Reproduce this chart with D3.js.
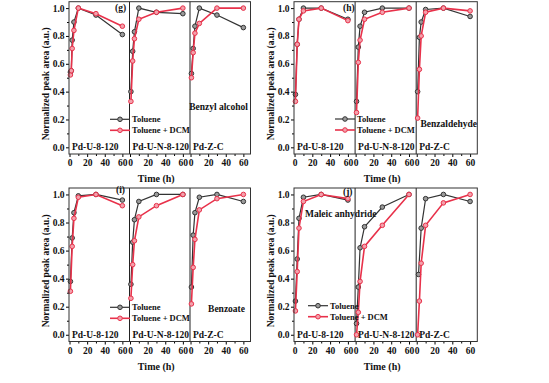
<!DOCTYPE html>
<html><head><meta charset="utf-8">
<script src="https://cdn.jsdelivr.net/npm/d3@7"></script>
<style>
html,body{margin:0;padding:0;background:#fff;}
text{font-family:"Liberation Serif","Times New Roman",serif;font-weight:bold;fill:#111;}
</style></head>
<body>
<svg id="chart" width="549" height="383"></svg>
<script>
// ---------- data ----------
const times = [1, 2, 3, 5, 10, 30, 60];
const catalysts = ["Pd-U-8-120", "Pd-U-N-8-120", "Pd-Z-C"];
const seriesNames = ["Toluene", "Toluene + DCM"];
const panelLetters = ["(g)", "(h)", "(i)", "(j)"];
const compounds = ["Benzyl alcohol", "Benzaldehyde", "Benzoate", "Maleic anhydride"];
const yTicks = [0.0, 0.2, 0.4, 0.6, 0.8, 1.0];
const yMinorTicks = [0.1, 0.3, 0.5, 0.7, 0.9];
const xTicks = [0, 20, 40, 60];
const xMinorTicks = [10, 30, 50];
const yTitle = "Normalized peak area (a.u.)";
const xTitle = "Time (h)";

// one row per catalyst (Pd-U-8-120, Pd-U-N-8-120, Pd-Z-C); null = no point at that time
const benzylAlcoholToluene = [
  [0.54, 0.55, 0.77, 0.90, 1.00, 0.95, 0.81],
  [0.40, null, 0.69, 0.83, 1.00, 0.97, 0.96],
  [0.53, null, 0.71, 0.87, 1.00, 0.95, 0.86]];
const benzylAlcoholDCM = [
  [0.52, 0.55, 0.71, 0.84, 1.00, 0.96, 0.87],
  [0.33, null, 0.62, 0.78, 0.92, 0.97, 1.00],
  [0.50, null, 0.68, 0.82, 0.89, 1.00, 1.00]];
const benzaldehydeToluene = [
  [0.38, null, 0.74, 0.92, 1.00, 1.00, 0.92],
  [0.33, null, 0.72, 0.87, 0.97, 1.00, 1.00],
  [0.40, null, 0.79, 0.90, 0.99, 1.00, 0.94]];
const benzaldehydeDCM = [
  [0.33, null, 0.74, 0.92, 0.98, 1.00, 0.91],
  [0.25, null, 0.61, 0.77, 0.92, 0.97, 1.00],
  [0.21, null, 0.56, 0.80, 0.97, 1.00, 0.98]];
const benzoateToluene = [
  [0.38, null, 0.69, 0.87, 0.99, 1.00, 0.96],
  [0.36, null, 0.66, 0.82, 0.95, 1.00, 1.00],
  [0.34, null, 0.71, 0.87, 0.98, 1.00, 0.95]];
const benzoateDCM = [
  [0.31, null, 0.63, 0.83, 0.98, 1.00, 0.92],
  [0.26, null, 0.50, 0.67, 0.84, 0.92, 1.00],
  [0.22, null, 0.48, 0.68, 0.89, 0.97, 1.00]];
const maleicToluene = [
  [0.24, null, 0.54, 0.83, 0.98, 1.00, 0.96],
  [0.08, null, 0.34, 0.62, 0.77, 0.91, 1.00],
  [null, 0.43, null, 0.76, 0.97, 1.00, 0.95]];
const maleicDCM = [
  [0.17, null, 0.45, 0.76, 0.95, 1.00, 0.97],
  [0.00, null, 0.16, 0.38, 0.63, 0.78, 1.00],
  [0.00, null, 0.24, 0.51, 0.78, 0.94, 1.00]];

const panelData = [
  [benzylAlcoholToluene, benzylAlcoholDCM],
  [benzaldehydeToluene, benzaldehydeDCM],
  [benzoateToluene, benzoateDCM],
  [maleicToluene, maleicDCM]];

// ---------- layout / style ----------
const boxes = [
  {left: 69, right: 250.5, top: 1.7, bottom: 154},
  {left: 294, right: 477.3, top: 1.7, bottom: 154},
  {left: 69, right: 250.5, top: 188, bottom: 341.5},
  {left: 294, right: 477.3, top: 188, bottom: 341.5}];
const letterPos = [[115, 11], [343, 11], [116, 193], [343, 195]];
const legendPos = [[110, 119.3], [335, 119], [110, 307.3], [308, 305.7]];
const compoundPos = [
  {x: 248, y: 110, anchor: "end"},
  {x: 477, y: 127, anchor: "end"},
  {x: 245, y: 312, anchor: "end"},
  {x: 305, y: 216.5, anchor: "start"}];
const colors = [
  {line: "#333333", stroke: "#333333", fill: "#9a9a9a"},
  {line: "#e8314a", stroke: "#e8314a", fill: "#f3a0ab"}];
const xDomain = [-0.6, 68.1];
const yDomain = [-0.048, 1.046];
const fs = 9.5;

const svg = d3.select("#chart");

panelData.forEach((series, p) => {
  const b = boxes[p];
  const g = svg.append("g");
  const y = d3.scaleLinear().domain(yDomain).range([b.bottom, b.top]);
  const subW = (b.right - b.left) / 3;

  // y axis
  const ya = g.append("g").attr("transform", `translate(${b.left},0)`)
    .call(d3.axisLeft(y).tickValues(yTicks).tickFormat(d3.format(".1f")).tickSize(3).tickPadding(1.5));
  ya.select(".domain").remove();
  ya.selectAll("text").style("font-size", fs + "px").style("font-family", "Liberation Serif").style("font-weight", "bold");
  const yam = g.append("g").attr("transform", `translate(${b.left},0)`)
    .call(d3.axisLeft(y).tickValues(yMinorTicks).tickFormat("").tickSize(2));
  yam.select(".domain").remove();

  for (let s = 0; s < 3; s++) {
    const x = d3.scaleLinear().domain(xDomain).range([b.left + s * subW, b.left + (s + 1) * subW]);
    const xa = g.append("g").attr("transform", `translate(0,${b.bottom})`)
      .call(d3.axisBottom(x).tickValues(xTicks).tickSize(3).tickPadding(2.3));
    xa.select(".domain").remove();
    xa.selectAll("text").style("font-size", fs + "px").style("font-family", "Liberation Serif").style("font-weight", "bold");
    const xam = g.append("g").attr("transform", `translate(0,${b.bottom})`)
      .call(d3.axisBottom(x).tickValues(xMinorTicks).tickFormat("").tickSize(2));
    xam.select(".domain").remove();

    // divider
    if (s > 0) {
      g.append("line").attr("x1", x.range()[0]).attr("x2", x.range()[0])
        .attr("y1", b.top).attr("y2", b.bottom).attr("stroke", "#222").attr("stroke-width", 1);
    }

    series.forEach((vals, k) => {
      const pts = times.map((t, i) => ({t, v: vals[s][i]})).filter(d => d.v !== null);
      const line = d3.line().x(d => x(d.t)).y(d => y(d.v));
      g.append("path").datum(pts).attr("d", line).attr("fill", "none")
        .attr("stroke", colors[k].line).attr("stroke-width", k ? 1.6 : 1.2);
      g.selectAll(null).data(pts).join("circle")
        .attr("cx", d => x(d.t)).attr("cy", d => y(d.v)).attr("r", 2.3)
        .attr("fill", colors[k].fill).attr("stroke", colors[k].stroke).attr("stroke-width", 1);
    });

    // catalyst label
    g.append("text").attr("x", x.range()[0] + 3).attr("y", b.bottom - 4)
      .style("font-size", fs + "px").text(catalysts[s]);
  }

  // frame
  g.append("rect").attr("x", b.left).attr("y", b.top).attr("width", b.right - b.left)
    .attr("height", b.bottom - b.top).attr("fill", "none").attr("stroke", "#333").attr("stroke-width", 1);

  // titles
  g.append("text").attr("x", (b.left + b.right) / 2 - 3.5).attr("y", b.bottom + 28)
    .attr("text-anchor", "middle").style("font-size", "10px").text(xTitle);
  g.append("text").attr("transform", `translate(${b.left - 20},${(b.top + b.bottom) / 2 + 6}) rotate(-90)`)
    .attr("text-anchor", "middle").style("font-size", fs + "px").text(yTitle);

  // panel letter
  g.append("text").attr("x", letterPos[p][0]).attr("y", letterPos[p][1]).style("font-size", fs + "px").text(panelLetters[p]);

  // compound label
  const cp = compoundPos[p];
  g.append("text").attr("x", cp.x).attr("y", cp.y).attr("text-anchor", cp.anchor)
    .style("font-size", fs + "px").text(compounds[p]);

  // legend
  const [lx, ly] = legendPos[p];
  seriesNames.forEach((name, k) => {
    const yy = ly + k * 11;
    g.append("line").attr("x1", lx).attr("x2", lx + 20).attr("y1", yy).attr("y2", yy)
      .attr("stroke", colors[k].line).attr("stroke-width", k ? 1.6 : 1.2);
    g.append("circle").attr("cx", lx + 10).attr("cy", yy).attr("r", 2.3)
      .attr("fill", colors[k].fill).attr("stroke", colors[k].stroke);
    g.append("text").attr("x", lx + 22).attr("y", yy + 3).style("font-size", "8.5px").text(name);
  });
});
</script>
</body></html>
